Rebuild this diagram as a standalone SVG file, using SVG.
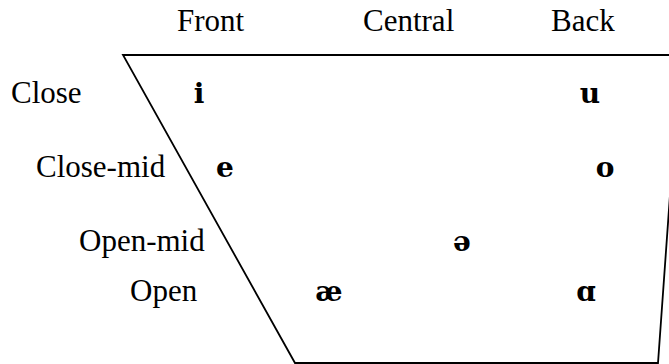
<svg xmlns="http://www.w3.org/2000/svg" width="669" height="364" viewBox="0 0 669 364">
<style>
.lbl{font-family:"Liberation Serif","Times New Roman",serif;font-size:31px;fill:#000}
.v{font-family:"DejaVu Serif","Liberation Serif",serif;font-weight:bold;font-size:28px;fill:#000}
.edge{fill:none;stroke:#000;stroke-width:1.8}
</style>
<rect width="669" height="364" fill="#fff"/>
<g id="connectors">
<path class="edge" d="M123,55 L680,55 L658,363 L295,363 Z"/>
</g>
<g id="labels">
<text class="lbl" x="177" y="31">Front</text>
<text class="lbl" x="363" y="31">Central</text>
<text class="lbl" x="551" y="31">Back</text>
<text class="lbl" x="11" y="103">Close</text>
<text class="lbl" x="36" y="177">Close-mid</text>
<text class="lbl" x="79" y="251">Open-mid</text>
<text class="lbl" x="130" y="301">Open</text>
</g>
<g id="v-i"><text class="v" x="199" y="103" text-anchor="middle">i</text></g>
<g id="v-u"><text class="v" x="590" y="103" text-anchor="middle">u</text></g>
<g id="v-e"><text class="v" x="225" y="177" text-anchor="middle">e</text></g>
<g id="v-o"><text class="v" x="605" y="177" text-anchor="middle">o</text></g>
<g id="v-schwa"><text class="v" x="462" y="251" text-anchor="middle">ə</text></g>
<g id="v-ae"><text class="v" x="329" y="301" text-anchor="middle">æ</text></g>
<g id="v-a"><text class="v" x="586" y="301" text-anchor="middle">ɑ</text></g>
</svg>
